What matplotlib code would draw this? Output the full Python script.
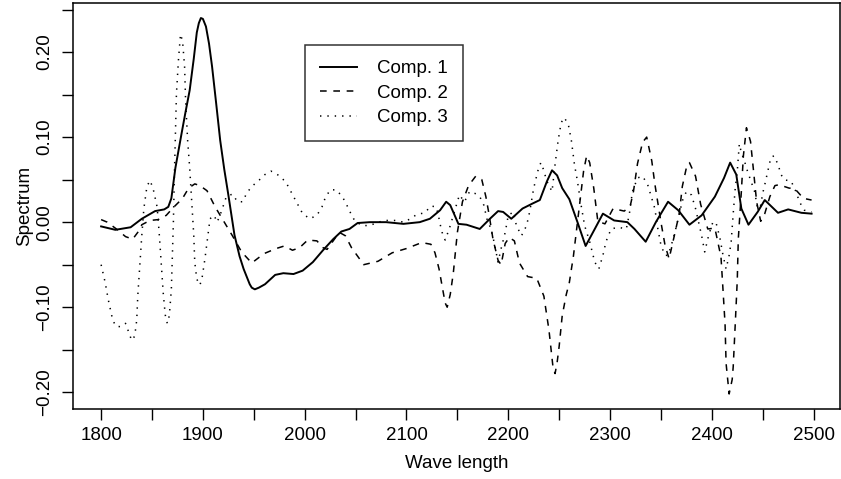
import matplotlib
matplotlib.use("Agg")
import matplotlib.pyplot as plt

plt.rcParams['font.family'] = ['Liberation Sans', 'DejaVu Sans']
plt.rcParams['lines.scale_dashes'] = False

comp1_x = [1800,1814,1829,1840,1853,1862,1866,1869,1873,1879,1883,1887,1891,1894,1896,1898,1900,1903,1906,1909,1913,1917,1921,1925,1931,1936,1940,1946,1948,1951,1955,1961,1971,1979,1989,1998,2008,2018,2028,2036,2044,2052,2064,2080,2097,2113,2123,2133,2139,2143,2151,2159,2172,2182,2190,2195,2203,2214,2224,2231,2238,2243,2248,2253,2260,2268,2276,2285,2293,2304,2317,2324,2335,2345,2357,2367,2378,2390,2403,2412,2418,2424,2429,2436,2445,2452,2465,2475,2488,2498]
comp1_y = [-0.005,-0.009,-0.006,0.004,0.013,0.015,0.018,0.028,0.064,0.104,0.130,0.155,0.192,0.223,0.234,0.240,0.239,0.230,0.210,0.183,0.140,0.096,0.062,0.032,-0.015,-0.040,-0.055,-0.073,-0.077,-0.079,-0.077,-0.073,-0.062,-0.060,-0.061,-0.057,-0.047,-0.033,-0.020,-0.011,-0.008,-0.001,0.000,0.000,-0.002,0.000,0.004,0.014,0.024,0.020,-0.002,-0.003,-0.008,0.004,0.013,0.012,0.004,0.016,0.022,0.026,0.048,0.061,0.055,0.040,0.027,0.000,-0.028,-0.008,0.010,0.002,0.000,-0.008,-0.023,0.000,0.024,0.014,-0.003,0.008,0.030,0.052,0.070,0.056,0.016,-0.003,0.012,0.026,0.011,0.015,0.011,0.010]

comp2_x = [1800,1806,1815,1824,1831,1836,1840,1848,1856,1864,1870,1880,1886,1892,1897,1904,1912,1920,1929,1938,1948,1960,1972,1980,1988,1995,2003,2012,2018,2022,2028,2034,2040,2046,2058,2072,2086,2100,2115,2124,2128,2132,2135,2138,2140,2143,2146,2150,2155,2161,2168,2174,2178,2181,2185,2190,2193,2197,2201,2206,2211,2219,2228,2235,2240,2244,2246,2248,2250,2253,2257,2260,2264,2268,2271,2274,2277,2280,2284,2288,2295,2303,2314,2320,2323,2327,2332,2336,2341,2344,2350,2354,2358,2362,2368,2371,2375,2378,2384,2389,2396,2403,2409,2411,2413,2414,2417,2420,2421,2423,2425,2426,2429,2431,2434,2438,2441,2444,2448,2452,2457,2462,2466,2476,2481,2490,2498]
comp2_y = [0.003,0.000,-0.008,-0.017,-0.020,-0.012,-0.003,0.002,0.003,0.008,0.016,0.028,0.040,0.045,0.043,0.037,0.018,0.002,-0.016,-0.035,-0.048,-0.037,-0.031,-0.028,-0.033,-0.030,-0.021,-0.022,-0.030,-0.032,-0.022,-0.012,-0.016,-0.030,-0.050,-0.046,-0.036,-0.031,-0.024,-0.026,-0.036,-0.055,-0.075,-0.095,-0.100,-0.085,-0.060,-0.012,0.024,0.043,0.054,0.050,0.030,0.010,-0.020,-0.045,-0.050,-0.025,-0.018,-0.022,-0.048,-0.064,-0.066,-0.087,-0.127,-0.171,-0.178,-0.165,-0.146,-0.110,-0.085,-0.071,-0.040,0.000,0.030,0.060,0.078,0.070,0.040,0.001,-0.002,0.016,0.013,0.020,0.036,0.069,0.094,0.100,0.072,0.045,0.000,-0.027,-0.043,-0.022,0.010,0.042,0.064,0.070,0.054,0.021,-0.008,-0.007,-0.041,-0.080,-0.120,-0.166,-0.202,-0.185,-0.170,-0.120,-0.068,-0.020,0.036,0.078,0.111,0.095,0.060,0.024,0.001,0.010,0.030,0.043,0.044,0.040,0.040,0.028,0.026]

comp3_x = [1800,1804,1807,1811,1814,1819,1824,1827,1830,1833,1835,1836,1838,1840,1842,1845,1848,1851,1855,1857,1859,1861,1863,1865,1867,1869,1870,1871,1872,1873,1874,1876,1878,1880,1882,1883,1885,1887,1889,1891,1892,1894,1897,1899,1902,1905,1907,1911,1914,1918,1923,1929,1934,1939,1943,1948,1954,1961,1967,1976,1982,1990,1998,2005,2012,2017,2020,2025,2031,2037,2041,2045,2049,2056,2064,2072,2080,2089,2097,2104,2110,2118,2124,2129,2131,2133,2135,2138,2142,2146,2149,2152,2157,2162,2167,2172,2176,2179,2183,2186,2190,2193,2197,2200,2205,2208,2213,2218,2221,2225,2229,2232,2234,2238,2243,2246,2249,2252,2255,2259,2262,2265,2268,2271,2275,2280,2285,2289,2293,2296,2301,2308,2316,2319,2322,2327,2332,2337,2340,2344,2347,2350,2354,2357,2362,2367,2371,2375,2380,2384,2387,2390,2393,2397,2401,2404,2408,2411,2414,2417,2419,2421,2423,2425,2427,2429,2432,2435,2442,2445,2448,2450,2452,2455,2458,2461,2465,2468,2471,2478,2483,2486,2491,2498]
comp3_y = [-0.050,-0.071,-0.091,-0.113,-0.122,-0.123,-0.119,-0.129,-0.139,-0.134,-0.115,-0.087,-0.051,-0.015,0.016,0.042,0.049,0.040,0.018,-0.012,-0.047,-0.083,-0.109,-0.119,-0.110,-0.079,-0.039,0.000,0.056,0.104,0.151,0.191,0.221,0.213,0.183,0.143,0.096,0.064,0.024,-0.015,-0.047,-0.067,-0.074,-0.067,-0.043,-0.015,0.004,0.008,0.000,0.012,0.030,0.033,0.024,0.024,0.034,0.042,0.048,0.056,0.060,0.054,0.046,0.028,0.010,0.004,0.008,0.018,0.028,0.038,0.038,0.030,0.021,0.011,0.002,-0.004,-0.004,0.000,0.002,0.002,0.000,0.004,0.009,0.011,0.019,0.018,0.010,-0.002,-0.012,-0.021,-0.008,0.008,0.020,0.032,0.024,0.036,0.034,0.030,0.020,0.004,-0.008,-0.023,-0.047,-0.031,-0.012,0.008,0.012,-0.004,-0.016,-0.004,0.012,0.040,0.060,0.070,0.064,0.048,0.036,0.068,0.096,0.117,0.123,0.115,0.096,0.068,0.048,0.024,-0.004,-0.023,-0.047,-0.055,-0.039,-0.023,-0.008,-0.006,-0.008,0.010,0.036,0.052,0.054,0.044,0.032,0.016,-0.008,-0.027,-0.039,-0.039,-0.020,0.004,0.025,0.036,0.032,0.016,0.000,-0.016,-0.035,-0.015,0.000,0.000,-0.019,-0.039,-0.055,-0.039,-0.023,0.010,0.040,0.060,0.092,0.082,0.072,0.060,0.036,0.016,0.020,0.034,0.044,0.060,0.076,0.078,0.068,0.056,0.050,0.048,0.035,0.024,0.014,0.012]

labels = ["Comp. 1", "Comp. 2", "Comp. 3"]
xticks = [1800, 1900, 2000, 2100, 2200, 2300, 2400, 2500]
yticks = [-0.20, -0.10, 0.00, 0.10, 0.20]

fs = 13.5
fig = plt.figure(figsize=(8.41, 4.79), dpi=100)
ax = fig.add_axes([72.7/841, 1-409/479, (840-72.7)/841, (409-3)/479])

lw = 1.1
ax.plot(comp1_x, comp1_y, color='black', lw=1.4, linestyle='-', label=labels[0],
        solid_joinstyle='round')
ax.plot(comp2_x, comp2_y, color='black', lw=lw, linestyle=(0, (4.8, 4.8)), label=labels[1])
ax.plot(comp3_x, comp3_y, color='black', lw=lw, linestyle=(0, (1.0, 4.3)), label=labels[2])

allx = comp1_x + comp2_x + comp3_x
ally = comp1_y + comp2_y + comp3_y
xr = max(allx) - min(allx)
yr = max(ally) - min(ally)
ax.set_xlim(min(allx) - 0.04*xr, max(allx) + 0.04*xr)
ax.set_ylim(min(ally) - 0.04*yr, max(ally) + 0.04*yr)

xall = [1800 + 50*i for i in range(15)]
ax.set_xticks(xall)
ax.set_xticklabels([str(t) if t in xticks else '' for t in xall], fontsize=fs)

def fmt(v):
    s = "%.2f" % abs(v)
    return ("\u2212" + s) if v < -1e-9 else s

yall = [-0.20 + 0.05*i for i in range(10)]
ax.set_yticks(yall)
ax.set_yticklabels([fmt(t) if any(abs(t-v) < 1e-9 for v in yticks) else '' for t in yall],
                   fontsize=fs, rotation=90, va='center')
ax.tick_params(direction='out', length=8, width=1, color='black', pad=5)
ax.tick_params(axis='y', pad=6)
for s in ax.spines.values():
    s.set_linewidth(1.1)

ax.set_xlabel("Wave length", fontsize=fs, labelpad=8)
ax.set_ylabel("Spectrum", fontsize=fs, labelpad=2)

leg = ax.legend(loc='upper left', bbox_to_anchor=((305-72.7)/767.3, 1-(45-3)/406),
                fontsize=fs, frameon=True, fancybox=False, edgecolor='black',
                handlelength=1.95, handletextpad=1.1, labelspacing=0.4,
                borderpad=0.8, borderaxespad=0)
leg.get_frame().set_linewidth(1.1)

fig.savefig("out.png", dpi=100)
